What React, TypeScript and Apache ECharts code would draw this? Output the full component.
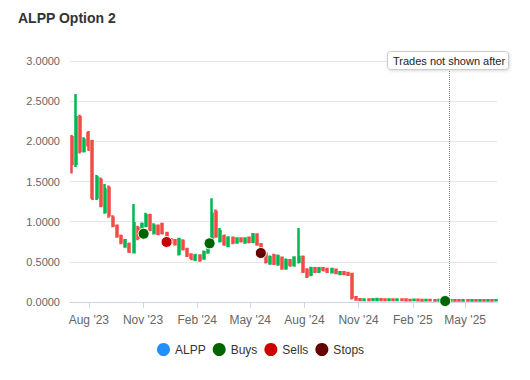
import React, { useEffect, useRef } from "react";
import * as echarts from "echarts";

// Weekly candles starting on this date (one candle per week)
const firstWeek = "2023-07-03";

// [open, close, low, high] per week
const candles: number[][] = [
  [2.05, 1.72, 1.6, 2.08],
  [1.72, 2.3, 1.68, 2.59],
  [2.3, 1.88, 1.85, 2.33],
  [1.88, 2.02, 1.86, 2.05],
  [2.1, 1.95, 1.88, 2.13],
  [2.0, 1.3, 1.27, 2.02],
  [1.3, 1.55, 1.27, 1.58],
  [1.52, 1.2, 1.18, 1.55],
  [1.12, 1.4, 1.1, 1.47],
  [1.42, 1.08, 1.05, 1.45],
  [1.05, 0.95, 0.93, 1.08],
  [0.95, 0.82, 0.8, 0.96],
  [0.82, 0.74, 0.72, 0.84],
  [0.69, 0.77, 0.68, 0.78],
  [0.72, 0.63, 0.61, 0.74],
  [0.62, 0.98, 0.61, 1.22],
  [0.92, 0.8, 0.77, 0.95],
  [0.88, 0.97, 0.86, 0.99],
  [0.95, 1.08, 0.93, 1.11],
  [1.08, 0.9, 0.88, 1.1],
  [0.86, 0.95, 0.84, 0.98],
  [0.95, 0.85, 0.83, 0.96],
  [0.97, 0.86, 0.84, 0.98],
  [0.86, 0.8, 0.78, 0.87],
  [0.78, 0.74, 0.73, 0.79],
  [0.77, 0.72, 0.71, 0.78],
  [0.6, 0.78, 0.58, 0.8],
  [0.76, 0.66, 0.64, 0.78],
  [0.66, 0.58, 0.56, 0.67],
  [0.59, 0.55, 0.52, 0.6],
  [0.53, 0.58, 0.51, 0.6],
  [0.58, 0.52, 0.5, 0.59],
  [0.54, 0.62, 0.53, 0.64],
  [0.62, 0.7, 0.6, 0.72],
  [0.72, 1.1, 0.7, 1.29],
  [1.12, 0.82, 0.8, 1.15],
  [0.76, 0.88, 0.74, 0.92],
  [0.82, 0.72, 0.7, 0.84],
  [0.7, 0.8, 0.68, 0.82],
  [0.8, 0.74, 0.72, 0.81],
  [0.74, 0.79, 0.73, 0.8],
  [0.79, 0.76, 0.74, 0.8],
  [0.74, 0.79, 0.73, 0.8],
  [0.8, 0.75, 0.73, 0.81],
  [0.75, 0.84, 0.74, 0.86],
  [0.84, 0.72, 0.7, 0.85],
  [0.72, 0.66, 0.64, 0.73],
  [0.6, 0.5, 0.48, 0.62],
  [0.48, 0.56, 0.47, 0.58],
  [0.58, 0.48, 0.46, 0.6],
  [0.47, 0.57, 0.45, 0.59],
  [0.55, 0.42, 0.4, 0.56],
  [0.42, 0.52, 0.4, 0.54],
  [0.52, 0.46, 0.44, 0.53],
  [0.46, 0.55, 0.44, 0.57],
  [0.5, 0.56, 0.48, 0.92],
  [0.56, 0.38, 0.36, 0.58],
  [0.4, 0.32, 0.3, 0.42],
  [0.34, 0.42, 0.32, 0.44],
  [0.42, 0.38, 0.36, 0.43],
  [0.38, 0.42, 0.36, 0.43],
  [0.42, 0.4, 0.38, 0.43],
  [0.41, 0.38, 0.36, 0.42],
  [0.37, 0.41, 0.36, 0.42],
  [0.4, 0.36, 0.35, 0.41],
  [0.35, 0.37, 0.34, 0.38],
  [0.37, 0.35, 0.34, 0.38],
  [0.36, 0.34, 0.33, 0.37],
  [0.35, 0.06, 0.03, 0.36],
  [0.06, 0.03, 0.02, 0.07],
  [0.035, 0.025, 0.015, 0.04],
  [0.025, 0.032, 0.015, 0.038],
  [0.03, 0.024, 0.015, 0.034],
  [0.024, 0.034, 0.018, 0.04],
  [0.026, 0.036, 0.018, 0.042],
  [0.034, 0.025, 0.015, 0.038],
  [0.03, 0.024, 0.015, 0.034],
  [0.024, 0.032, 0.015, 0.036],
  [0.032, 0.026, 0.018, 0.035],
  [0.025, 0.032, 0.015, 0.036],
  [0.032, 0.025, 0.015, 0.035],
  [0.03, 0.023, 0.014, 0.032],
  [0.026, 0.022, 0.014, 0.03],
  [0.024, 0.028, 0.015, 0.032],
  [0.028, 0.022, 0.014, 0.032],
  [0.024, 0.02, 0.012, 0.028],
  [0.022, 0.026, 0.014, 0.03],
  [0.026, 0.021, 0.013, 0.029],
  [0.022, 0.02, 0.012, 0.026],
  [0.02, 0.024, 0.012, 0.028],
  [0.024, 0.02, 0.012, 0.027],
  [0.022, 0.019, 0.011, 0.025],
  [0.02, 0.023, 0.012, 0.026],
  [0.023, 0.02, 0.012, 0.026],
  [0.021, 0.019, 0.011, 0.024],
  [0.02, 0.022, 0.012, 0.025],
  [0.022, 0.019, 0.011, 0.024],
  [0.02, 0.023, 0.012, 0.026],
  [0.023, 0.02, 0.012, 0.026],
  [0.02, 0.022, 0.012, 0.025],
  [0.022, 0.02, 0.012, 0.025],
  [0.02, 0.023, 0.012, 0.026],
  [0.023, 0.02, 0.012, 0.026],
  [0.021, 0.022, 0.012, 0.025],
];

const buys: [string, number][] = [
  ["2023-11-02", 0.85],
  ["2024-02-22", 0.73],
  ["2025-03-28", 0.012],
];
const sells: [string, number][] = [["2023-12-11", 0.747]];
const stops: [string, number][] = [["2024-05-19", 0.61]];

const tradesCutoff = "2025-04-04";
const axisStart = "2023-06-30";
const axisEnd = "2025-06-24";

const xTickDates = [
  "2023-08-01",
  "2023-11-01",
  "2024-02-01",
  "2024-05-01",
  "2024-08-01",
  "2024-11-01",
  "2025-02-01",
  "2025-05-01",
];
const monthNames = ["Jan", "Feb", "Mar", "Apr", "May", "Jun", "Jul", "Aug", "Sep", "Oct", "Nov", "Dec"];

const legendNames = ["ALPP", "Buys", "Sells", "Stops"];
const legendColors = ["#1e90ff", "#006400", "#cc0000", "#660000"];
const upColor = "#00b84f";
const downColor = "#f24a45";

function parseLocal(s: string): number {
  const [y, m, d] = s.split("-").map(Number);
  return new Date(y, m - 1, d).getTime();
}

export default function App() {
  const ref = useRef<HTMLDivElement>(null);

  useEffect(() => {
    if (!ref.current) return;
    const chart = echarts.init(ref.current, null, { renderer: "svg" });
    const start = parseLocal(firstWeek);
    const day = 24 * 3600 * 1000;
    const candleData = candles.map((c, i) => [start + i * 7 * day, c[0], c[1], c[2], c[3]]);
    const tickVals = xTickDates.map(parseLocal);
    const font = "Liberation Sans, Arial, Helvetica, sans-serif";
    const markerStyle = (c: string) => ({ color: c, borderColor: "#ffffff", borderWidth: 1, opacity: 1 });

    chart.setOption({
      animation: false,
      backgroundColor: "#ffffff",
      textStyle: { fontFamily: font },
      title: {
        text: "ALPP Option 2",
        left: 13,
        top: 6,
        textStyle: { fontSize: 14, fontWeight: "bold", color: "#333333", fontFamily: font },
      },
      legend: {
        left: 152,
        top: 338,
        itemWidth: 13,
        itemHeight: 13,
        itemGap: 7,
        icon: "circle",
        textStyle: { fontSize: 12, color: "#333333", fontFamily: font },
        data: legendNames.map((n, i) => ({
          name: n,
          icon: "circle",
          itemStyle: { color: legendColors[i], borderWidth: 0, opacity: 1 },
        })),
      },
      grid: { left: 70, right: 33, top: 61, bottom: 78 },
      xAxis: {
        type: "value",
        scale: true,
        min: parseLocal(axisStart),
        max: parseLocal(axisEnd),
        axisLine: { show: true, lineStyle: { color: "#ccd6eb" } },
        axisTick: { show: true, customValues: tickVals, length: 6, lineStyle: { color: "#ccd6eb" } },
        axisLabel: {
          customValues: tickVals,
          color: "#666666",
          fontSize: 12,
          margin: 12,
          formatter: (v: number) => {
            const d = new Date(v);
            return `${monthNames[d.getMonth()]} '${String(d.getFullYear()).slice(2)}`;
          },
        },
        splitLine: { show: false },
      },
      yAxis: {
        type: "value",
        min: 0,
        max: 3,
        interval: 0.5,
        axisLine: { show: false },
        axisTick: { show: false },
        axisLabel: {
          color: "#666666",
          fontSize: 11,
          margin: 10,
          formatter: (v: number) => v.toFixed(4),
        },
        splitLine: { lineStyle: { color: "#e6e6e6" } },
      },
      series: [
        {
          name: "ALPP",
          type: "candlestick",
          barWidth: 1.5,
          data: candleData,
          itemStyle: {
            color: upColor,
            color0: downColor,
            borderColor: upColor,
            borderColor0: downColor,
            borderWidth: 2.5,
          },
          markLine: {
            silent: true,
            symbol: "none",
            label: { show: false },
            lineStyle: { type: "dotted", color: "#7f7fd5", width: 1 },
            data: [{ xAxis: parseLocal(tradesCutoff) }],
          },
        },
        {
          name: "Buys",
          type: "scatter",
          symbolSize: 11,
          z: 5,
          itemStyle: markerStyle(legendColors[1]),
          data: buys.map((b) => [parseLocal(b[0]), b[1]]),
        },
        {
          name: "Sells",
          type: "scatter",
          symbolSize: 11,
          z: 5,
          itemStyle: markerStyle(legendColors[2]),
          data: sells.map((b) => [parseLocal(b[0]), b[1]]),
        },
        {
          name: "Stops",
          type: "scatter",
          symbolSize: 11,
          z: 5,
          itemStyle: markerStyle(legendColors[3]),
          data: stops.map((b) => [parseLocal(b[0]), b[1]]),
        },
      ],
      graphic: [
        {
          type: "rect",
          z: 100,
          shape: { x: 387.5, y: 51.5, width: 121, height: 18, r: 3 },
          style: {
            fill: "#ffffff",
            stroke: "#cccccc",
            lineWidth: 1,
            shadowBlur: 3,
            shadowOffsetX: 1,
            shadowOffsetY: 1,
            shadowColor: "rgba(0,0,0,0.15)",
          },
        },
        {
          type: "text",
          z: 101,
          x: 393,
          y: 61,
          style: {
            text: "Trades not shown after",
            fill: "#222222",
            fontSize: 11,
            fontFamily: font,
            verticalAlign: "middle",
          },
        },
      ],
    });
    return () => chart.dispose();
  }, []);

  return (
    <div
      ref={ref}
      style={{ position: "absolute", left: 0, top: 0, width: 530, height: 380 }}
    />
  );
}
